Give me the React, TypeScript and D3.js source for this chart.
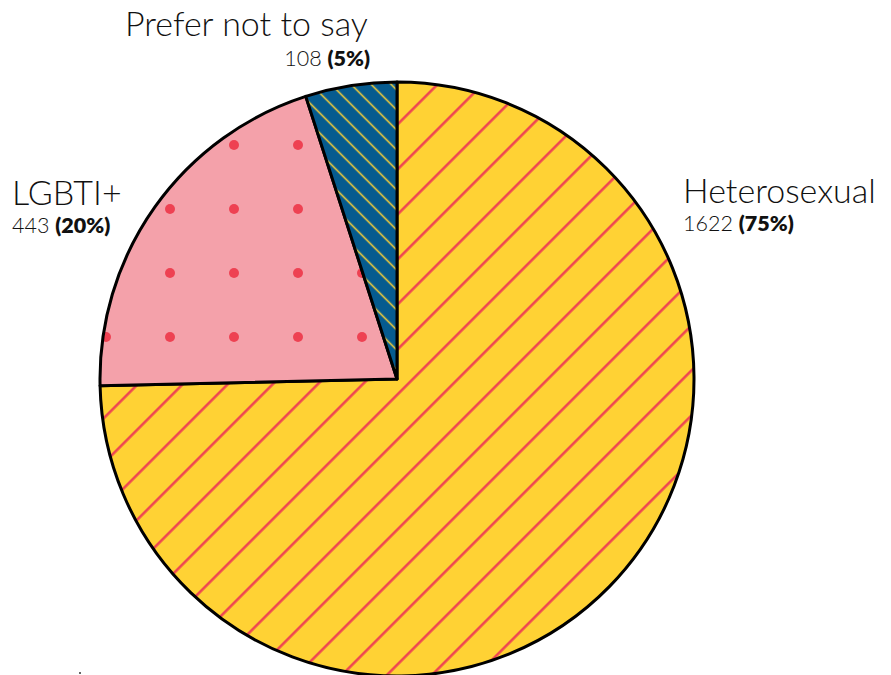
import React, { useMemo } from "react";
import * as d3 from "d3";

const categories = ["Heterosexual", "LGBTI+", "Prefer not to say"];
const counts = [1622, 443, 108];
const fills = ["url(#hetero)", "url(#lgbti)", "url(#prefer)"];

const width = 891,
  height = 675,
  cx = 397,
  cy = 379,
  radius = 297;

// label anchor points, one per category
const labelPos = [
  { x: 683, y: 203, anchor: "start", nx: 683, ny: 231, nanchor: "start" },
  { x: 12, y: 205, anchor: "start", nx: 12, ny: 233, nanchor: "start" },
  { x: 125, y: 36, anchor: "start", nx: 370, ny: 66, nanchor: "end" },
];

const App = () => {
  const total = d3.sum(counts);
  const pct = d3.format(".0%");

  const arcs = useMemo(
    () =>
      d3
        .pie<number>()
        .sort(null)
        .startAngle(0)
        .endAngle(2 * Math.PI)(counts),
    []
  );
  const arc = d3.arc<d3.PieArcDatum<number>>().innerRadius(0).outerRadius(radius);

  return (
    <svg
      width={width}
      height={height}
      style={{ position: "absolute", left: 0, top: 0, fontFamily: "Lato, sans-serif" }}
    >
      <defs>
        {/* pattern offsets are in the pie group's coords (origin at centre) */}
        <pattern
          id="hetero"
          patternUnits="userSpaceOnUse"
          width={31.82}
          height={31.82}
          patternTransform="rotate(45)"
        >
          <rect width={31.82} height={31.82} fill="#FFD234" />
          <line x1={11.3} x2={11.3} y1={0} y2={31.82} stroke="#EE4152" strokeWidth={2.5} />
        </pattern>
        <pattern
          id="prefer"
          patternUnits="userSpaceOnUse"
          width={14.14}
          height={14.14}
          patternTransform="rotate(-45)"
        >
          <rect width={14.14} height={14.14} fill="#065B8F" />
          <line x1={6.2} x2={6.2} y1={0} y2={14.14} stroke="#FFD234" strokeWidth={1.5} />
        </pattern>
        <pattern id="lgbti" patternUnits="userSpaceOnUse" width={64} height={64}>
          <rect width={64} height={64} fill="#F4A1AA" />
          <circle cx={29} cy={22} r={5} fill="#EE4152" />
        </pattern>
      </defs>

      <g transform={`translate(${cx},${cy})`}>
        {arcs.map((d, i) => (
          <path
            key={categories[i]}
            d={arc(d) || ""}
            fill={fills[i]}
            stroke="#000"
            strokeWidth={3}
            strokeLinejoin="round"
          />
        ))}
      </g>

      {categories.map((c, i) => (
        <g key={c} fill="#111">
          <text
            x={labelPos[i].x}
            y={labelPos[i].y}
            textAnchor={labelPos[i].anchor}
            fontSize={34}
            fontWeight={300}
          >
            {c}
          </text>
          <text
            x={labelPos[i].nx}
            y={labelPos[i].ny}
            textAnchor={labelPos[i].nanchor}
            fontSize={21.5}
            fontWeight={300}
          >
            {counts[i]}{" "}
            <tspan fontWeight={800}>({pct(counts[i] / total)})</tspan>
          </text>
        </g>
      ))}

      <rect x={79} y={672} width={2} height={2} fill="#666" />
    </svg>
  );
};

export default App;
